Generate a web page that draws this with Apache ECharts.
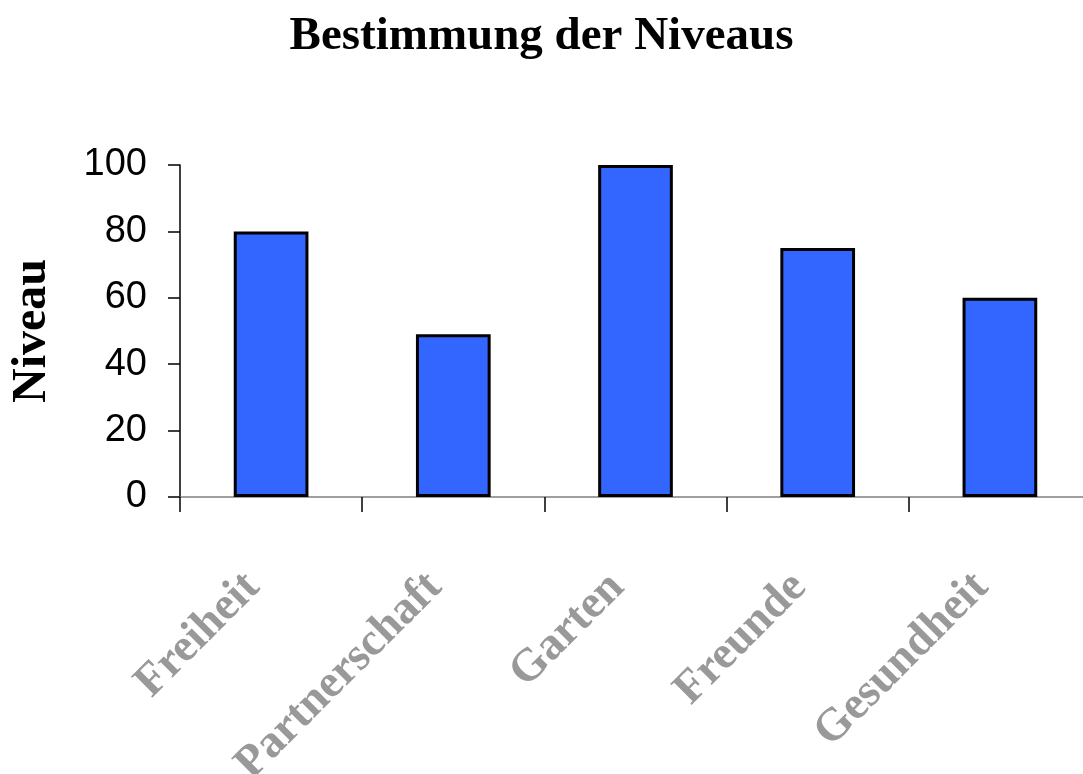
<!DOCTYPE html>
<html>
<head>
<meta charset="utf-8">
<script src="https://cdn.jsdelivr.net/npm/echarts@6/dist/echarts.min.js"></script>
<style>
  html, body { margin: 0; padding: 0; background: #fff; }
  #main { width: 1083px; height: 774px; }
</style>
</head>
<body>
<div id="main"></div>
<script>
  const categories = ['Freiheit', 'Partnerschaft', 'Garten', 'Freunde', 'Gesundheit'];
  const niveau = [80, 49, 100, 75, 60];

  const serif = '"Liberation Serif", "DejaVu Serif", serif';
  const sans = '"Liberation Sans", Arial, sans-serif';

  let option = {
    animation: false,
    backgroundColor: '#fff',
    title: {
      text: 'Bestimmung der Niveaus',
      left: 'center',
      top: 8,
      textStyle: {
        fontFamily: serif,
        fontWeight: 'bold',
        fontSize: 47,
        color: '#000',
      },
    },
    grid: {
      left: 180,
      width: 911,
      top: 165,
      bottom: 277,
      outerBoundsMode: 'none',
      containLabel: false,
    },
    xAxis: {
      type: 'category',
      data: categories,
      axisLine: { lineStyle: { color: '#808080', width: 1.5 } },
      axisTick: { show: true, length: 15, lineStyle: { color: '#000', width: 1.5 } },
      axisLabel: {
        rotate: 45,
        margin: 65,
        padding: [0, 26, 0, 0],
        interval: 0,
        fontFamily: serif,
        fontWeight: 'bold',
        fontSize: 46,
        color: '#999999',
      },
    },
    yAxis: {
      type: 'value',
      min: 0,
      max: 100,
      interval: 20,
      name: 'Niveau',
      nameLocation: 'middle',
      nameGap: 123,
      nameTextStyle: {
        fontFamily: serif,
        fontWeight: 'bold',
        fontSize: 48,
        color: '#000',
      },
      axisLine: { show: true, lineStyle: { color: '#000', width: 1.5 } },
      axisTick: { show: true, length: 12, lineStyle: { color: '#000', width: 1.5 } },
      splitLine: { show: false },
      axisLabel: {
        margin: 33,
        fontFamily: sans,
        fontSize: 38,
        color: '#000',
      },
    },
    series: [
      {
        type: 'bar',
        data: niveau,
        barWidth: '41%',
        itemStyle: {
          color: '#3366FF',
          borderColor: '#000',
          borderWidth: 3,
        },
      },
    ],
  };

  let myChart = echarts.init(document.getElementById('main'));
  myChart.setOption(option);
</script>
</body>
</html>
